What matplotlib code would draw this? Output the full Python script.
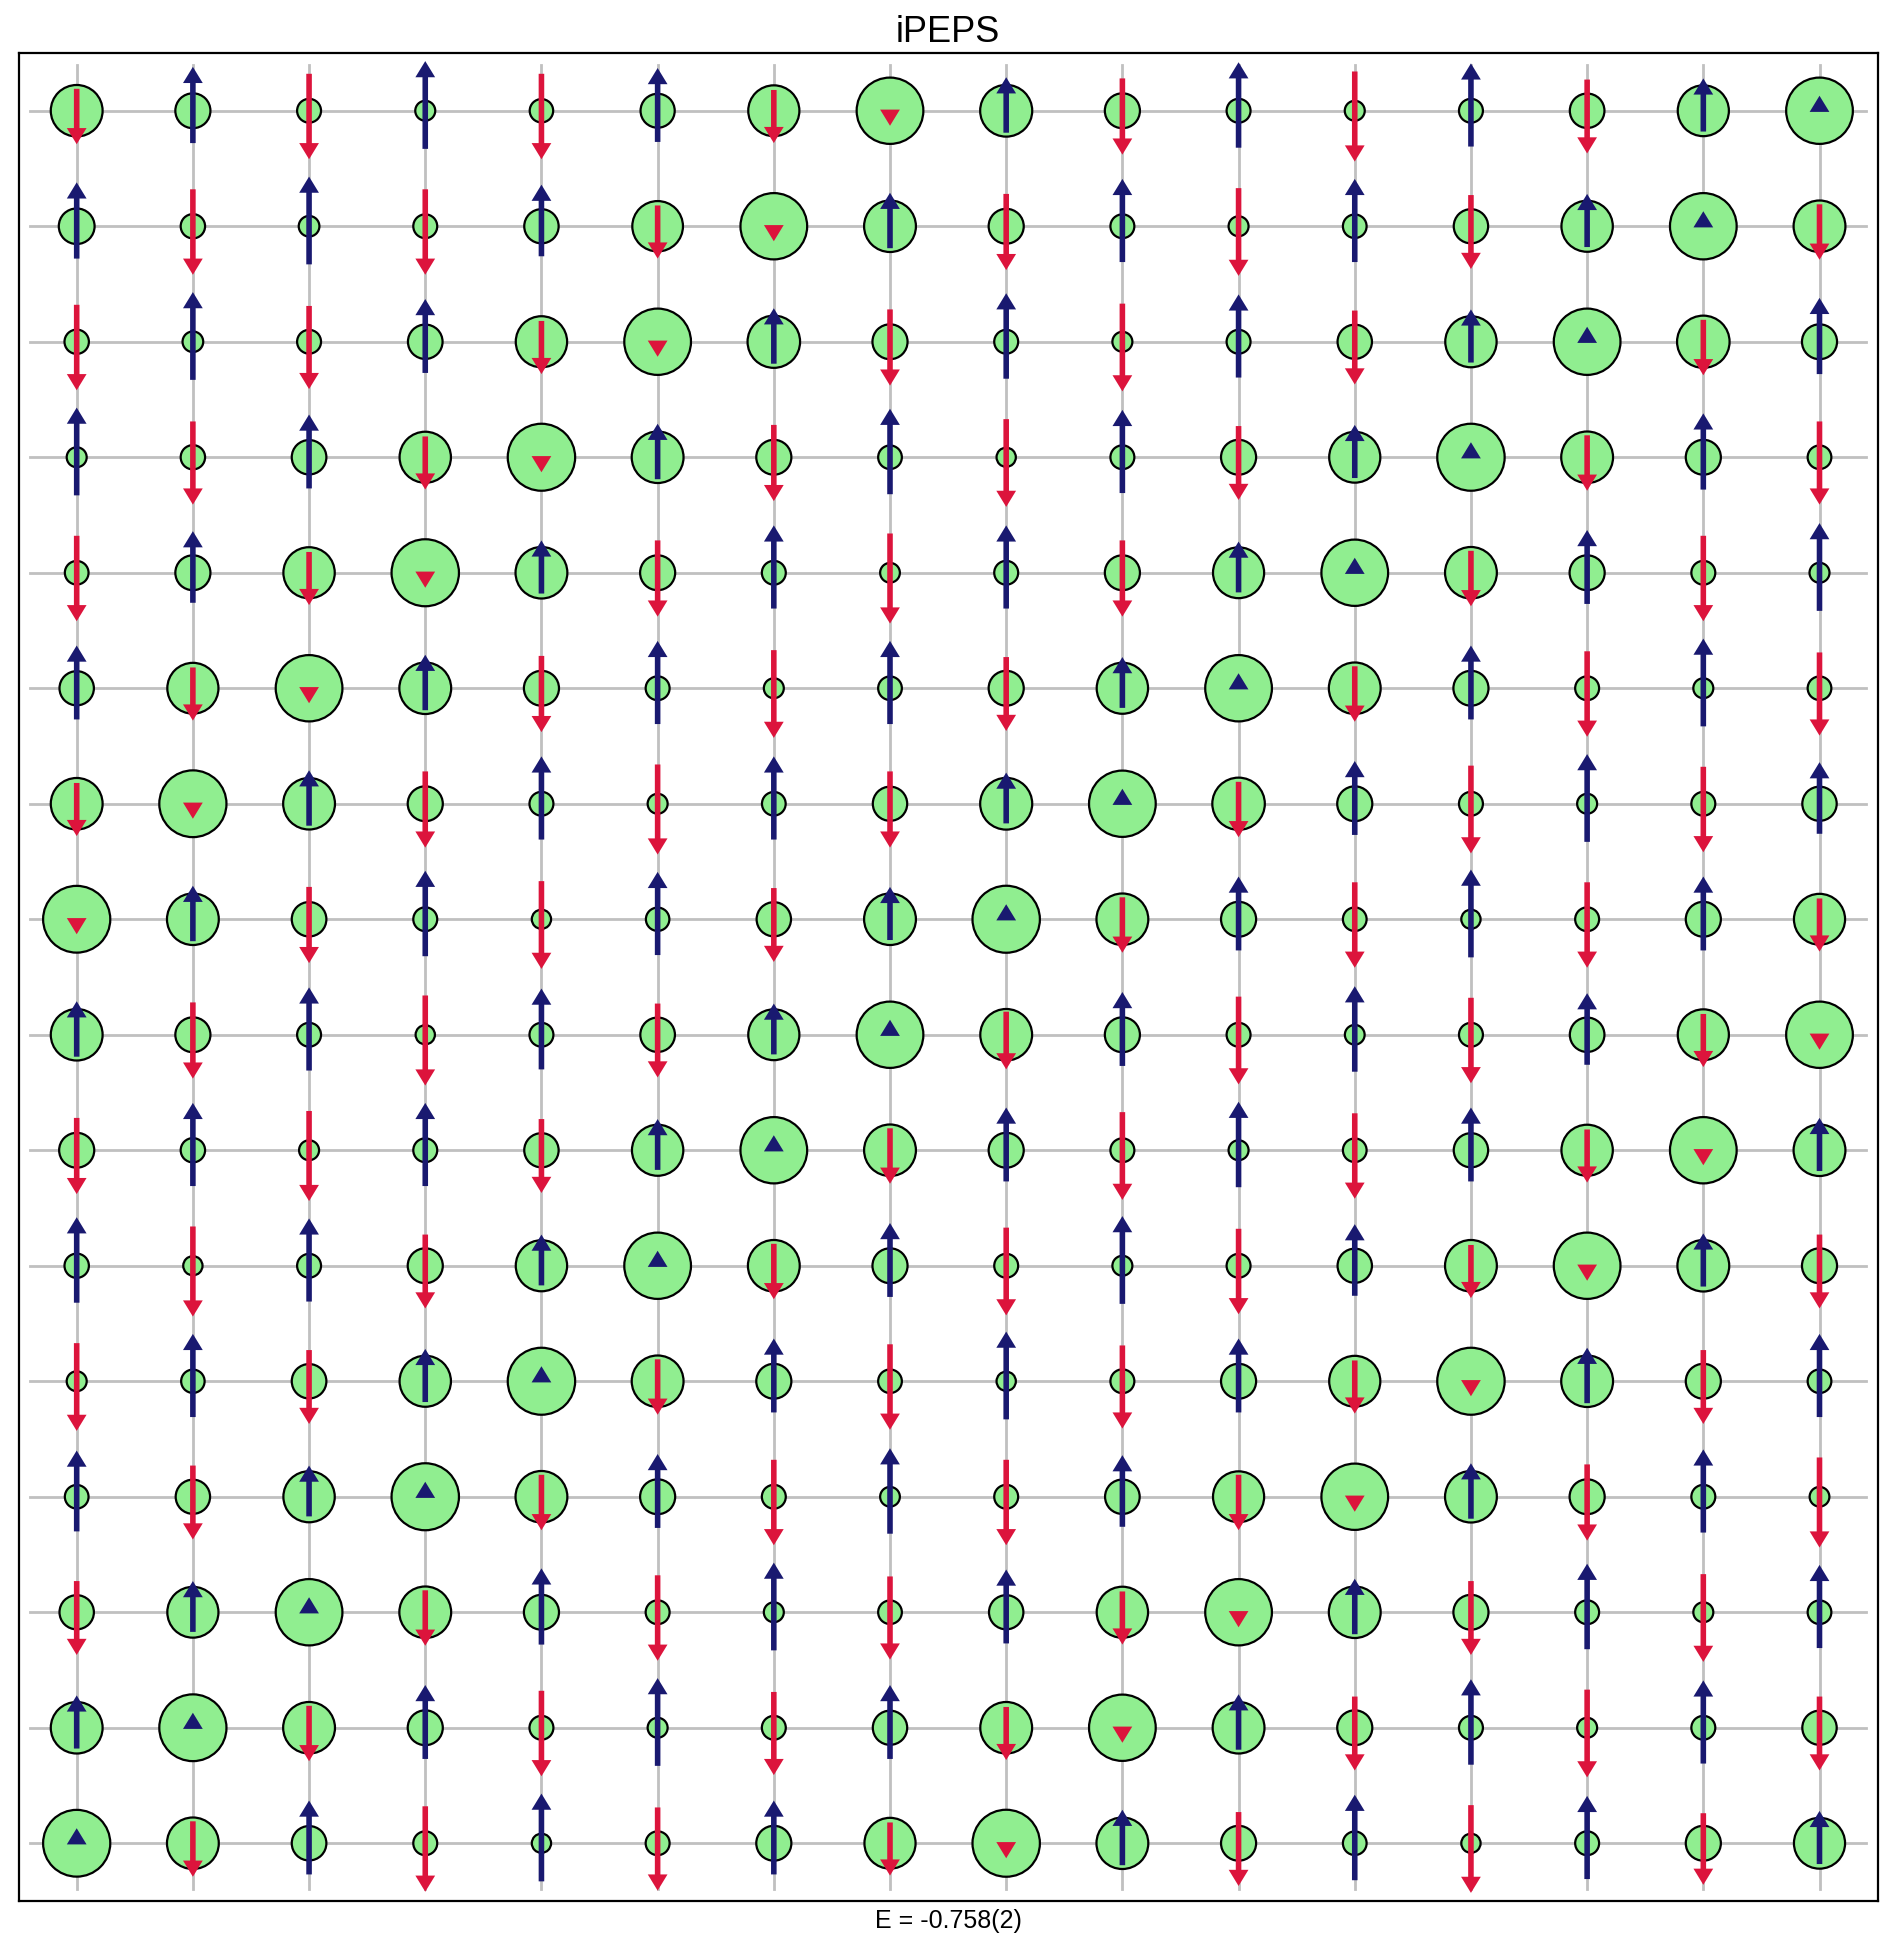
import matplotlib
matplotlib.use("Agg")
import matplotlib.pyplot as plt
from matplotlib.patches import Circle

plt.rcParams["font.family"] = ["Liberation Sans", "DejaVu Sans"]

L = 16
TITLE = "iPEPS"
ENERGY_LABEL = "E = -0.758(2)"

# hole density per site (row 0 = top row), drawn as circle radius
HOLE = [
    [.223, .151, .103, .086, .101, .147, .220, .287, .224, .151, .103, .086, .103, .149, .220, .287],
    [.154, .105, .089, .103, .148, .218, .287, .223, .151, .103, .086, .102, .148, .221, .287, .223],
    [.105, .089, .103, .149, .221, .287, .226, .151, .103, .086, .103, .148, .221, .287, .226, .151],
    [.086, .105, .149, .221, .290, .223, .151, .102, .083, .103, .151, .220, .290, .223, .151, .102],
    [.102, .151, .221, .290, .223, .151, .103, .085, .103, .151, .220, .287, .223, .151, .103, .086],
    [.148, .220, .287, .223, .151, .103, .086, .102, .151, .221, .287, .223, .151, .103, .086, .102],
    [.223, .289, .223, .151, .103, .086, .102, .148, .224, .287, .226, .151, .103, .086, .103, .148],
    [.289, .223, .149, .103, .083, .101, .148, .223, .290, .223, .151, .102, .083, .103, .151, .220],
    [.223, .151, .103, .083, .103, .149, .220, .287, .223, .151, .103, .085, .103, .149, .220, .287],
    [.151, .105, .086, .103, .148, .221, .287, .223, .151, .103, .086, .102, .148, .221, .287, .223],
    [.105, .083, .103, .151, .221, .287, .223, .151, .103, .086, .103, .148, .223, .287, .223, .151],
    [.086, .101, .149, .221, .290, .223, .151, .102, .083, .103, .151, .220, .290, .223, .151, .102],
    [.102, .148, .221, .290, .223, .151, .103, .085, .103, .149, .220, .287, .223, .151, .103, .085],
    [.148, .220, .287, .223, .151, .103, .086, .102, .148, .221, .287, .223, .151, .103, .086, .102],
    [.223, .289, .223, .151, .103, .086, .103, .148, .223, .287, .223, .151, .103, .086, .103, .148],
    [.289, .223, .149, .103, .083, .103, .151, .220, .290, .223, .151, .102, .083, .103, .151, .220],
]

# S_z per site (positive = up), drawn as arrows
SZ = [
    [-.19, .28, -.32, .33, -.32, .27, -.18, -.01, .19, -.28, .32, -.34, .31, -.27, .18, .01],
    [.28, -.32, .33, -.32, .26, -.18, -.01, .19, -.28, .31, -.33, .31, -.27, .18, .01, -.19],
    [-.32, .33, -.31, .27, -.18, -.01, .19, -.28, .32, -.33, .31, -.27, .18, .01, -.19, .28],
    [.33, -.31, .27, -.18, -.01, .19, -.28, .32, -.33, .31, -.27, .18, .01, -.19, .28, -.31],
    [-.32, .26, -.18, -.01, .18, -.28, .31, -.34, .31, -.28, .17, .01, -.19, .27, -.32, .33],
    [.27, -.18, -.01, .19, -.28, .31, -.33, .31, -.27, .17, .01, -.19, .27, -.32, .33, -.31],
    [-.18, -.01, .19, -.28, .31, -.34, .31, -.28, .17, .01, -.19, .27, -.33, .33, -.32, .26],
    [-.01, .19, -.28, .32, -.33, .31, -.27, .18, .01, -.19, .27, -.32, .33, -.32, .27, -.18],
    [.19, -.28, .31, -.34, .30, -.27, .17, .01, -.20, .27, -.33, .32, -.32, .26, -.18, -.01],
    [-.28, .31, -.34, .31, -.27, .17, .01, -.19, .27, -.33, .32, -.32, .27, -.18, -.01, .18],
    [.32, -.34, .31, -.27, .17, .01, -.19, .27, -.33, .33, -.32, .26, -.18, -.01, .18, -.27],
    [-.33, .31, -.27, .18, .01, -.19, .27, -.32, .33, -.31, .27, -.18, -.01, .19, -.27, .31],
    [.30, -.27, .17, .01, -.19, .27, -.32, .32, -.32, .26, -.19, -.01, .19, -.28, .31, -.34],
    [-.27, .17, .01, -.19, .28, -.32, .33, -.31, .27, -.18, -.01, .19, -.27, .32, -.33, .31],
    [.18, .01, -.19, .27, -.32, .33, -.31, .27, -.18, -.01, .19, -.27, .32, -.33, .31, -.27],
    [.01, -.19, .27, -.32, .33, -.31, .27, -.18, -.01, .19, -.27, .32, -.33, .31, -.26, .18],
]

UP_COLOR = "#191970"
DOWN_COLOR = "#dc143c"
FILL = "#90ee90"


def main():
    fig = plt.figure(figsize=(9.485, 9.73), dpi=200)
    ax = fig.add_axes([18.6 / 1897, 1 - 1901 / 1946, 1859 / 1897, 1848 / 1946])

    for i in range(L):
        ax.plot([-0.4, L - 0.6], [i, i], color="#c0c0c0", lw=1.0, zorder=1)
        ax.plot([i, i], [-0.4, L - 0.6], color="#c0c0c0", lw=1.0, zorder=1)

    tip_extra = 0.1
    head_len = 0.14
    for r in range(L):
        for c in range(L):
            ax.add_patch(Circle((c, r), HOLE[r][c], facecolor=FILL,
                                edgecolor="black", lw=0.8, zorder=2))
            s = SZ[r][c]
            a = abs(s)
            length = max(2 * a + tip_extra, head_len)
            if s > 0:
                y0, dy, col = r + a, -length, UP_COLOR
            else:
                y0, dy, col = r - a, length, DOWN_COLOR
            ax.arrow(c, y0, 0, dy, width=0.048, head_width=0.17,
                     head_length=head_len, length_includes_head=True,
                     color=col, lw=0, zorder=3)

    ax.set_xlim(-0.5, L - 0.5)
    ax.set_ylim(L - 0.5, -0.5)
    ax.set_xticks([])
    ax.set_yticks([])
    ax.set_title(TITLE, fontsize=13, pad=4)
    ax.set_xlabel(ENERGY_LABEL, fontsize=9, labelpad=3)

    fig.savefig("out.png", dpi=200, facecolor="white")
    plt.close(fig)


if __name__ == "__main__":
    main()
